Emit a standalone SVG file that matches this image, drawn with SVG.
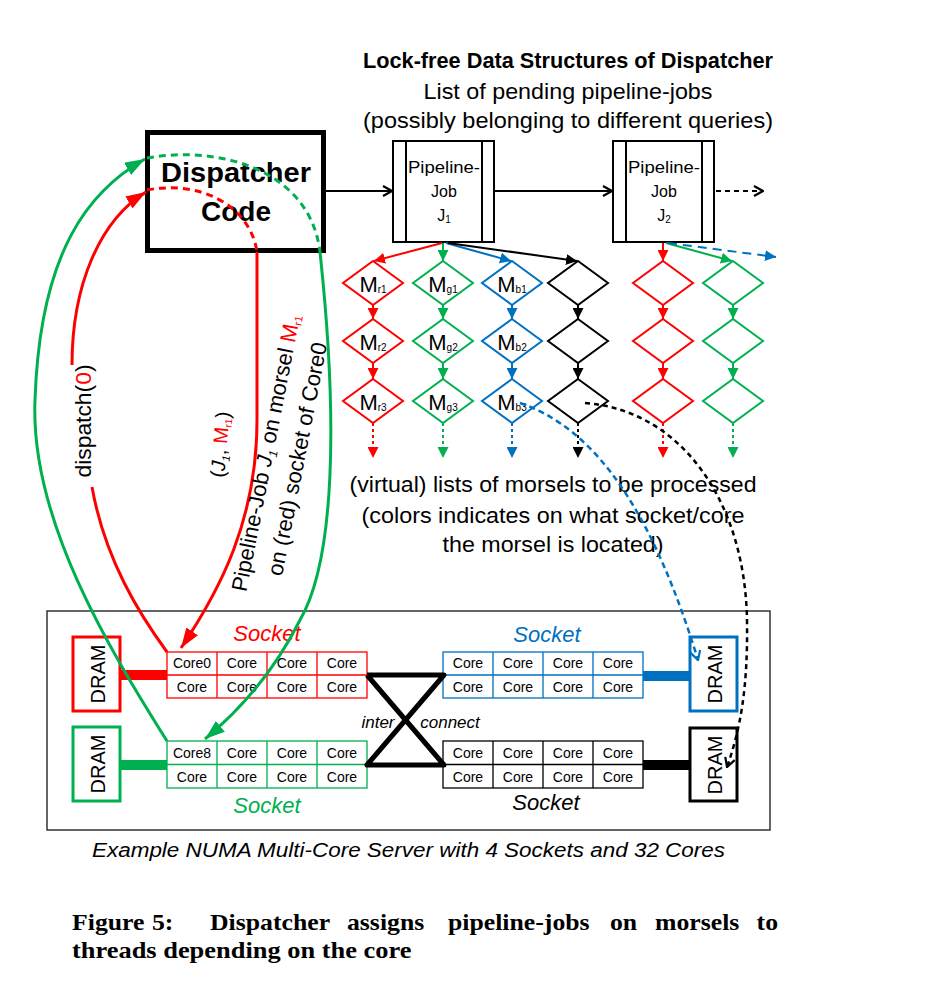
<svg xmlns="http://www.w3.org/2000/svg" width="925" height="1000" viewBox="0 0 925 1000">
<defs>
<style>
text{font-family:"Liberation Sans",Arial,sans-serif;fill:#000}
.title{font-size:22px;font-weight:bold}
.sub1{font-size:22.5px}
.disp{font-size:28px;font-weight:bold}
.pj{font-size:16px}
.m{font-size:22px}
.ms{font-size:10px}
.core{font-size:14px}
.dram{font-size:20px}
.sock{font-size:22px;font-style:italic}
.ic{font-size:17px;font-style:italic}
.cap{font-size:20px;font-style:italic}
.fig{font-family:"Liberation Serif","Times New Roman",serif;font-size:23px;font-weight:bold}
.lbl{font-size:22px}
.R{stroke:#FF0000}.G{stroke:#00B050}.B{stroke:#0070C0}.K{stroke:#000}
.dia{fill:#fff;stroke-width:2}
.grid{fill:#fff;stroke-width:1.3}
.gl{stroke-width:1.3}
.dram-box{fill:#fff;stroke-width:3}
.ar{fill:none;stroke-width:2}
.cv{fill:none;stroke-width:3}
</style>
<marker id="aR" viewBox="0 0 10 10" refX="10" refY="5" markerWidth="11" markerHeight="11" markerUnits="userSpaceOnUse" orient="auto"><path d="M0,0L10,5L0,10z" fill="#FF0000"/></marker>
<marker id="aG" viewBox="0 0 10 10" refX="10" refY="5" markerWidth="11" markerHeight="11" markerUnits="userSpaceOnUse" orient="auto"><path d="M0,0L10,5L0,10z" fill="#00B050"/></marker>
<marker id="aB" viewBox="0 0 10 10" refX="10" refY="5" markerWidth="11" markerHeight="11" markerUnits="userSpaceOnUse" orient="auto"><path d="M0,0L10,5L0,10z" fill="#0070C0"/></marker>
<marker id="aK" viewBox="0 0 10 10" refX="10" refY="5" markerWidth="11" markerHeight="11" markerUnits="userSpaceOnUse" orient="auto"><path d="M0,0L10,5L0,10z" fill="#000"/></marker>
<marker id="bR" viewBox="0 0 20 14" refX="20" refY="7" markerWidth="20" markerHeight="14" markerUnits="userSpaceOnUse" orient="auto"><path d="M0,0L20,7L0,14z" fill="#FF0000"/></marker>
<marker id="bG" viewBox="0 0 20 14" refX="20" refY="7" markerWidth="20" markerHeight="14" markerUnits="userSpaceOnUse" orient="auto"><path d="M0,0L20,7L0,14z" fill="#00B050"/></marker>
<marker id="cK" viewBox="0 0 12 12" refX="11" refY="6" markerWidth="12" markerHeight="12" markerUnits="userSpaceOnUse" orient="auto"><path d="M2,1L11,6L2,11" fill="none" stroke="#000" stroke-width="2.2"/></marker>
<marker id="cB" viewBox="0 0 12 12" refX="11" refY="6" markerWidth="12" markerHeight="12" markerUnits="userSpaceOnUse" orient="auto"><path d="M2,1L11,6L2,11" fill="none" stroke="#0070C0" stroke-width="2.2"/></marker>
</defs>
<rect width="925" height="1000" fill="#fff"/>

<g id="title">
<text class="title" x="568" y="68" text-anchor="middle" textLength="410" lengthAdjust="spacingAndGlyphs">Lock-free Data Structures of Dispatcher</text>
<text class="sub1" x="568" y="99" text-anchor="middle" textLength="289" lengthAdjust="spacingAndGlyphs">List of pending pipeline-jobs</text>
<text class="sub1" x="568" y="128" text-anchor="middle" textLength="410" lengthAdjust="spacingAndGlyphs">(possibly belonging to different queries)</text>
</g>

<g id="dispatcher">
<rect x="147.5" y="132.5" width="176" height="118" fill="#fff" stroke="#000" stroke-width="5"/>
<text class="disp" x="236" y="182" text-anchor="middle" textLength="150" lengthAdjust="spacingAndGlyphs">Dispatcher</text>
<text class="disp" x="236" y="221" text-anchor="middle" textLength="70" lengthAdjust="spacingAndGlyphs">Code</text>
</g>

<g id="job1">
<rect x="393" y="141" width="101" height="101" fill="#fff" stroke="#000" stroke-width="2"/>
<line x1="406" y1="141" x2="406" y2="242" stroke="#000" stroke-width="2"/>
<line x1="482" y1="141" x2="482" y2="242" stroke="#000" stroke-width="2"/>
<text class="pj" x="444" y="173" text-anchor="middle" textLength="72" lengthAdjust="spacingAndGlyphs">Pipeline-</text>
<text class="pj" x="444" y="197" text-anchor="middle">Job</text>
<text class="pj" x="444" y="221" text-anchor="middle">J<tspan font-size="10" dy="2">1</tspan></text>
</g>
<g id="job2">
<rect x="613" y="141" width="101" height="101" fill="#fff" stroke="#000" stroke-width="2"/>
<line x1="626" y1="141" x2="626" y2="242" stroke="#000" stroke-width="2"/>
<line x1="702" y1="141" x2="702" y2="242" stroke="#000" stroke-width="2"/>
<text class="pj" x="664" y="173" text-anchor="middle" textLength="72" lengthAdjust="spacingAndGlyphs">Pipeline-</text>
<text class="pj" x="664" y="197" text-anchor="middle">Job</text>
<text class="pj" x="664" y="221" text-anchor="middle">J<tspan font-size="10" dy="2">2</tspan></text>
</g>

<g id="morsels-red1">
<polygon class="dia R" points="373,261 403,283 373,305 343,283"/>
<polygon class="dia R" points="373,319 403,341 373,363 343,341"/>
<polygon class="dia R" points="373,379 403,401 373,423 343,401"/>
<text class="m" x="373" y="292" text-anchor="middle">M<tspan class="ms" dy="1">r1</tspan></text>
<text class="m" x="373" y="350" text-anchor="middle">M<tspan class="ms" dy="1">r2</tspan></text>
<text class="m" x="373" y="410" text-anchor="middle">M<tspan class="ms" dy="1">r3</tspan></text>
</g>
<g id="morsels-green1">
<polygon class="dia G" points="443,261 473,283 443,305 413,283"/>
<polygon class="dia G" points="443,319 473,341 443,363 413,341"/>
<polygon class="dia G" points="443,379 473,401 443,423 413,401"/>
<text class="m" x="443" y="292" text-anchor="middle">M<tspan class="ms" dy="1">g1</tspan></text>
<text class="m" x="443" y="350" text-anchor="middle">M<tspan class="ms" dy="1">g2</tspan></text>
<text class="m" x="443" y="410" text-anchor="middle">M<tspan class="ms" dy="1">g3</tspan></text>
</g>
<g id="morsels-blue1">
<polygon class="dia B" points="512,261 542,283 512,305 482,283"/>
<polygon class="dia B" points="512,319 542,341 512,363 482,341"/>
<polygon class="dia B" points="512,379 542,401 512,423 482,401"/>
<text class="m" x="512" y="292" text-anchor="middle">M<tspan class="ms" dy="1">b1</tspan></text>
<text class="m" x="512" y="350" text-anchor="middle">M<tspan class="ms" dy="1">b2</tspan></text>
<text class="m" x="512" y="410" text-anchor="middle">M<tspan class="ms" dy="1">b3</tspan></text>
</g>
<g id="morsels-black1">
<polygon class="dia K" points="578,261 608,283 578,305 548,283"/>
<polygon class="dia K" points="578,319 608,341 578,363 548,341"/>
<polygon class="dia K" points="578,379 608,401 578,423 548,401"/>
</g>
<g id="morsels-red2">
<polygon class="dia R" points="663,261 693,283 663,305 633,283"/>
<polygon class="dia R" points="663,319 693,341 663,363 633,341"/>
<polygon class="dia R" points="663,379 693,401 663,423 633,401"/>
</g>
<g id="morsels-green2">
<polygon class="dia G" points="733,261 763,283 733,305 703,283"/>
<polygon class="dia G" points="733,319 763,341 733,363 703,341"/>
<polygon class="dia G" points="733,379 763,401 733,423 703,401"/>
</g>

<g id="morsel-text">
<text class="sub1" x="553" y="492" text-anchor="middle" textLength="407" lengthAdjust="spacingAndGlyphs">(virtual) lists of morsels to be processed</text>
<text class="sub1" x="553" y="523" text-anchor="middle" textLength="383" lengthAdjust="spacingAndGlyphs">(colors indicates on what socket/core</text>
<text class="sub1" x="553" y="552" text-anchor="middle" textLength="221" lengthAdjust="spacingAndGlyphs">the morsel is located)</text>
</g>

<g id="server">
<rect x="47" y="611" width="723" height="219" fill="none" stroke="#333" stroke-width="1.5"/>
</g>

<g id="dram-red">
<rect class="dram-box R" x="73" y="637" width="47" height="74"/>
<text class="dram" transform="translate(105,674) rotate(-90)" text-anchor="middle">DRAM</text>
</g>
<g id="dram-green">
<rect class="dram-box G" x="73" y="727" width="47" height="74"/>
<text class="dram" transform="translate(105,764) rotate(-90)" text-anchor="middle">DRAM</text>
</g>
<g id="dram-blue">
<rect class="dram-box B" x="690" y="637" width="47" height="74"/>
<text class="dram" transform="translate(722,674) rotate(-90)" text-anchor="middle">DRAM</text>
</g>
<g id="dram-black">
<rect class="dram-box K" x="690" y="728" width="47" height="73"/>
<text class="dram" transform="translate(722,765) rotate(-90)" text-anchor="middle">DRAM</text>
</g>

<g id="bars">
<rect x="120" y="670" width="47" height="10" fill="#FF0000"/>
<rect x="120" y="760" width="47" height="10" fill="#00B050"/>
<rect x="643" y="671" width="47" height="10" fill="#0070C0"/>
<rect x="643" y="760" width="47" height="10" fill="#000"/>
</g>

<g id="socket-red">
<rect class="grid R" x="167" y="652" width="200" height="46"/>
<path class="gl R" d="M217,652V698M267,652V698M317,652V698M167,675H367"/>
<text class="core" x="192" y="668" text-anchor="middle">Core0</text>
<text class="core" x="242" y="668" text-anchor="middle">Core</text>
<text class="core" x="292" y="668" text-anchor="middle">Core</text>
<text class="core" x="342" y="668" text-anchor="middle">Core</text>
<text class="core" x="192" y="692" text-anchor="middle">Core</text>
<text class="core" x="242" y="692" text-anchor="middle">Core</text>
<text class="core" x="292" y="692" text-anchor="middle">Core</text>
<text class="core" x="342" y="692" text-anchor="middle">Core</text>
<text class="sock" x="267" y="641" text-anchor="middle" style="fill:#FF0000">Socket</text>
</g>
<g id="socket-green">
<rect class="grid G" x="167" y="741" width="200" height="47"/>
<path class="gl G" d="M217,741V788M267,741V788M317,741V788M167,764.5H367"/>
<text class="core" x="192" y="758" text-anchor="middle">Core8</text>
<text class="core" x="242" y="758" text-anchor="middle">Core</text>
<text class="core" x="292" y="758" text-anchor="middle">Core</text>
<text class="core" x="342" y="758" text-anchor="middle">Core</text>
<text class="core" x="192" y="782" text-anchor="middle">Core</text>
<text class="core" x="242" y="782" text-anchor="middle">Core</text>
<text class="core" x="292" y="782" text-anchor="middle">Core</text>
<text class="core" x="342" y="782" text-anchor="middle">Core</text>
<text class="sock" x="267" y="813" text-anchor="middle" style="fill:#00B050">Socket</text>
</g>
<g id="socket-blue">
<rect class="grid B" x="443" y="652" width="200" height="46"/>
<path class="gl B" d="M493,652V698M543,652V698M593,652V698M443,675H643"/>
<text class="core" x="468" y="668" text-anchor="middle">Core</text>
<text class="core" x="518" y="668" text-anchor="middle">Core</text>
<text class="core" x="568" y="668" text-anchor="middle">Core</text>
<text class="core" x="618" y="668" text-anchor="middle">Core</text>
<text class="core" x="468" y="692" text-anchor="middle">Core</text>
<text class="core" x="518" y="692" text-anchor="middle">Core</text>
<text class="core" x="568" y="692" text-anchor="middle">Core</text>
<text class="core" x="618" y="692" text-anchor="middle">Core</text>
<text class="sock" x="547" y="642" text-anchor="middle" style="fill:#0070C0">Socket</text>
</g>
<g id="socket-black">
<rect class="grid K" x="443" y="741" width="200" height="47"/>
<path class="gl K" d="M493,741V788M543,741V788M593,741V788M443,764.5H643"/>
<text class="core" x="468" y="758" text-anchor="middle">Core</text>
<text class="core" x="518" y="758" text-anchor="middle">Core</text>
<text class="core" x="568" y="758" text-anchor="middle">Core</text>
<text class="core" x="618" y="758" text-anchor="middle">Core</text>
<text class="core" x="468" y="782" text-anchor="middle">Core</text>
<text class="core" x="518" y="782" text-anchor="middle">Core</text>
<text class="core" x="568" y="782" text-anchor="middle">Core</text>
<text class="core" x="618" y="782" text-anchor="middle">Core</text>
<text class="sock" x="546" y="810" text-anchor="middle">Socket</text>
</g>

<g id="interconnect">
<path d="M367,675H444L367,765H444L367,675" fill="none" stroke="#000" stroke-width="5" stroke-linejoin="round"/>
<text class="ic" x="378" y="728" text-anchor="middle">inter</text>
<text class="ic" x="450" y="728" text-anchor="middle">connect</text>
</g>

<g id="captions">
<text class="cap" x="92" y="857" textLength="633" lengthAdjust="spacingAndGlyphs">Example NUMA Multi-Core Server with 4 Sockets and 32 Cores</text>
<g transform="scale(1.12,1)">
<text class="fig" y="930"><tspan x="64.3">Figure</tspan><tspan x="135.7">5:</tspan><tspan x="187.5">Dispatcher</tspan><tspan x="309.8">assigns</tspan><tspan x="400">pipeline-jobs</tspan><tspan x="544.6">on</tspan><tspan x="584.8">morsels</tspan><tspan x="675.5">to</tspan></text>
<text class="fig" x="64.3" y="958" textLength="303" lengthAdjust="spacingAndGlyphs">threads depending on the core</text>
</g>
</g>

<g id="connectors">
<line class="ar K" x1="326" y1="191" x2="392" y2="191" marker-end="url(#cK)"/>
<line class="ar K" x1="494" y1="191" x2="612" y2="191" marker-end="url(#cK)"/>
<line class="ar K" x1="716" y1="191" x2="763" y2="191" stroke-dasharray="5,4" marker-end="url(#cK)"/>
<line class="ar R" x1="442" y1="243" x2="374" y2="261" marker-end="url(#aR)"/>
<line class="ar G" x1="443" y1="243" x2="443" y2="261" marker-end="url(#aG)"/>
<line class="ar B" x1="446" y1="243" x2="511" y2="261" marker-end="url(#aB)"/>
<line class="ar K" x1="448" y1="243" x2="577" y2="261" marker-end="url(#aK)"/>
<line class="ar R" x1="663" y1="243" x2="663" y2="261" marker-end="url(#aR)"/>
<line class="ar G" x1="666" y1="243" x2="732" y2="261" marker-end="url(#aG)"/>
<line class="ar B" x1="668" y1="243" x2="776" y2="257" stroke-dasharray="9,6" marker-end="url(#aB)"/>
<line class="ar R" x1="373" y1="305" x2="373" y2="319" marker-end="url(#aR)"/>
<line class="ar R" x1="373" y1="363" x2="373" y2="379" marker-end="url(#aR)"/>
<line class="ar G" x1="443" y1="305" x2="443" y2="319" marker-end="url(#aG)"/>
<line class="ar G" x1="443" y1="363" x2="443" y2="379" marker-end="url(#aG)"/>
<line class="ar B" x1="512" y1="305" x2="512" y2="319" marker-end="url(#aB)"/>
<line class="ar B" x1="512" y1="363" x2="512" y2="379" marker-end="url(#aB)"/>
<line class="ar K" x1="578" y1="305" x2="578" y2="319" marker-end="url(#aK)"/>
<line class="ar K" x1="578" y1="363" x2="578" y2="379" marker-end="url(#aK)"/>
<line class="ar R" x1="663" y1="305" x2="663" y2="319" marker-end="url(#aR)"/>
<line class="ar R" x1="663" y1="363" x2="663" y2="379" marker-end="url(#aR)"/>
<line class="ar G" x1="733" y1="305" x2="733" y2="319" marker-end="url(#aG)"/>
<line class="ar G" x1="733" y1="363" x2="733" y2="379" marker-end="url(#aG)"/>
<line class="ar R" x1="373" y1="423" x2="373" y2="458" stroke-dasharray="3,3" marker-end="url(#aR)"/>
<line class="ar G" x1="443" y1="423" x2="443" y2="458" stroke-dasharray="3,3" marker-end="url(#aG)"/>
<line class="ar B" x1="512" y1="423" x2="512" y2="458" stroke-dasharray="3,3" marker-end="url(#aB)"/>
<line class="ar K" x1="578" y1="423" x2="578" y2="458" stroke-dasharray="3,3" marker-end="url(#aK)"/>
<line class="ar R" x1="663" y1="423" x2="663" y2="458" stroke-dasharray="3,3" marker-end="url(#aR)"/>
<line class="ar G" x1="733" y1="423" x2="733" y2="458" stroke-dasharray="3,3" marker-end="url(#aG)"/>
<path d="M520,403C600,430 655,520 698,660" fill="none" stroke="#0070C0" stroke-width="2.5" stroke-dasharray="6,4" marker-end="url(#cB)"/>
<path d="M585,403C680,410 745,500 747,620C748,690 740,730 727,767" fill="none" stroke="#000" stroke-width="2.5" stroke-dasharray="5,4" marker-end="url(#cK)"/>
<path class="cv R" d="M167,652C140,615 105,560 92,487"/>
<path class="cv R" d="M72,365C72,285 100,220 146,192" marker-end="url(#bR)"/>
<path class="cv R" d="M147,190C200,180 250,205 257,252" stroke-dasharray="7,5"/>
<path class="cv R" d="M257,252L257,420C257,520 220,590 181,648" marker-end="url(#bR)"/>
<path class="cv G" d="M167,741C110,650 30,520 35,400C40,250 90,190 145,159" marker-end="url(#bG)"/>
<path class="cv G" d="M147,158C220,145 310,170 320,252" stroke-dasharray="7,5"/>
<path class="cv G" d="M320,252C338,420 335,560 300,620C275,670 240,710 205,739" marker-end="url(#bG)"/>
</g>

<g id="labels">
<text class="lbl" transform="translate(91,421) rotate(-90)" text-anchor="middle" textLength="113" lengthAdjust="spacingAndGlyphs">dispatch(<tspan style="fill:#FF0000">0</tspan>)</text>
<text font-size="20" transform="translate(227,445) rotate(-85)" text-anchor="middle">(<tspan font-style="italic">J</tspan><tspan font-size="11" font-style="italic" dy="4">1</tspan><tspan dy="-4">, </tspan><tspan style="fill:#FF0000">M</tspan><tspan font-size="10" dy="3" style="fill:#FF0000">r1</tspan><tspan dy="-3">)</tspan></text>
<g transform="translate(282,456) rotate(-79)">
<text class="lbl" x="0" y="-9" text-anchor="middle">Pipeline-Job <tspan font-style="italic">J</tspan><tspan font-size="12" font-style="italic" dy="4">1</tspan><tspan dy="-4"> on morsel </tspan><tspan style="fill:#FF0000">M</tspan><tspan font-size="11" dy="3" style="fill:#FF0000">r1</tspan></text>
<text class="lbl" x="0" y="23" text-anchor="middle">on (red) socket of Core0</text>
</g>
</g>
</svg>
